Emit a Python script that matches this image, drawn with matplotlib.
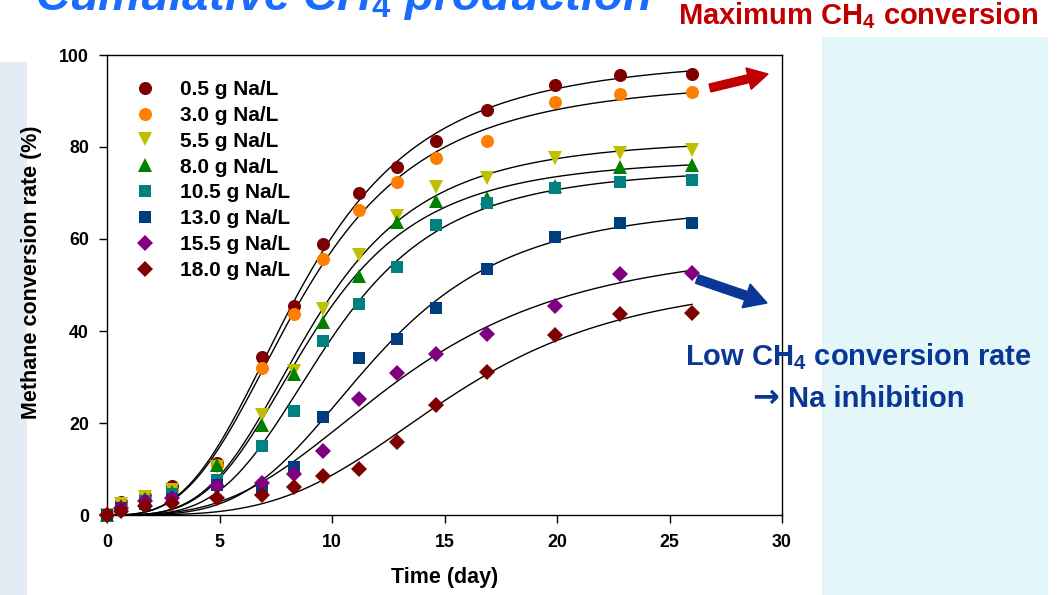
import numpy as np
import matplotlib
matplotlib.use("Agg")
import matplotlib.pyplot as plt
from matplotlib.patches import Rectangle, FancyArrow
from matplotlib.transforms import IdentityTransform

plt.rcParams['font.family'] = ['Liberation Sans', 'DejaVu Sans']
plt.rcParams['font.weight'] = 'bold'
plt.rcParams['mathtext.fontset'] = 'custom'
plt.rcParams['mathtext.rm'] = 'Liberation Sans:bold'
plt.rcParams['mathtext.bf'] = 'Liberation Sans:bold'
plt.rcParams['mathtext.it'] = 'Liberation Sans:italic:bold'

# ---- data -----------------------------------------------------------------
time_days = [0, 0.6, 1.7, 2.9, 4.9, 6.9, 8.3, 9.6, 11.2, 12.9, 14.6, 16.9, 19.9, 22.8, 26.0]

na_labels = ["0.5 g Na/L", "3.0 g Na/L", "5.5 g Na/L", "8.0 g Na/L",
             "10.5 g Na/L", "13.0 g Na/L", "15.5 g Na/L", "18.0 g Na/L"]

conv_05 = [0, 2.9, 4.1, 6.2, 11.4, 34.3, 45.4, 59.0, 70.1, 75.6, 81.3, 88.1, 93.5, 95.7, 95.9]
conv_30 = [0, 2.5, 3.8, 5.5, 10.8, 32.0, 43.8, 55.7, 66.2, 72.4, 77.5, 81.3, 89.8, 91.6, 91.9]
conv_55 = [0, 2.5, 4.0, 5.5, 10.5, 21.8, 31.4, 44.7, 56.6, 65.0, 71.3, 73.2, 77.5, 78.6, 79.3]
conv_80 = [0, 2.0, 3.5, 5.0, 10.9, 19.5, 30.6, 42.0, 52.0, 63.8, 68.2, 69.0, 71.5, 75.7, 76.0]
conv_105 = [0, 1.5, 3.0, 4.5, 7.6, 14.9, 22.7, 37.9, 45.8, 54.0, 63.0, 67.8, 71.0, 72.4, 72.8]
conv_130 = [0, 1.5, 2.5, 3.5, 6.5, 5.9, 10.5, 21.3, 34.1, 38.3, 44.9, 53.5, 60.4, 63.5, 63.5]
conv_155 = [0, 1.5, 3.0, 3.7, 6.2, 6.9, 8.9, 14.0, 25.3, 30.9, 35.1, 39.4, 45.4, 52.4, 52.6]
conv_180 = [0, 0.9, 2.0, 2.7, 3.6, 4.4, 6.0, 8.5, 10.0, 15.8, 24.0, 31.1, 39.2, 43.6, 43.9]

series = [conv_05, conv_30, conv_55, conv_80, conv_105, conv_130, conv_155, conv_180]

# ---- styles ---------------------------------------------------------------
colors = ["#7f0000", "#ff8000", "#bfbf00", "#008000",
          "#008080", "#003f7f", "#800080", "#7f0000"]
markers = ["o", "o", "v", "^", "s", "s", "D", "D"]
msizes = [9.4, 9.4, 9.6, 9.6, 8.8, 8.8, 8.3, 8.3]

W, H = 1059, 595


def fx(px):
    return px / W


def fy(py):
    return 1 - py / H


def hill_fit(t, y):
    """Least-squares fit of y = a t^b / (c^b + t^b)."""
    t = np.asarray(t, float)
    y = np.asarray(y, float)
    b = np.linspace(1.0, 6.0, 251)[:, None, None]
    c = np.linspace(2.0, 60.0, 581)[None, :, None]
    tt = t[None, None, :]
    f = tt ** b / (c ** b + tt ** b)
    a = (f * y).sum(-1) / (f * f).sum(-1)
    sse = ((a[..., None] * f - y) ** 2).sum(-1)
    i, j = np.unravel_index(np.argmin(sse), sse.shape)
    return a[i, j], b[i, 0, 0], c[0, j, 0]


fig = plt.figure(figsize=(W / 100, H / 100), dpi=100)
fig.patch.set_facecolor("white")

# slide background panels
fig.add_artist(Rectangle((fx(0), fy(595)), fx(27), fy(62) - fy(595),
                         transform=fig.transFigure, facecolor="#e3ebf5",
                         edgecolor="none", zorder=0))
fig.add_artist(Rectangle((fx(822), fy(595)), fx(1048) - fx(822), fy(37) - fy(595),
                         transform=fig.transFigure, facecolor="#e3f7f9",
                         edgecolor="none", zorder=0))

ax = fig.add_axes([fx(107), fy(515), fx(782) - fx(107), fy(55) - fy(515)])

t = np.asarray(time_days)
tfine = np.linspace(0, t.max(), 300)
for vals in series:
    a, b, c = hill_fit(t, vals)
    ax.plot(tfine, a * tfine ** b / (c ** b + tfine ** b), color="black", lw=1.0, zorder=2)

handles = []
for vals, col, mk, ms, lab in zip(series, colors, markers, msizes, na_labels):
    h, = ax.plot(t, vals, linestyle="none", marker=mk, ms=ms, color=col,
                 mec=col, mew=0, clip_on=False, zorder=3, label=lab)
    handles.append(h)

ax.set_xlim(0, 30)
ax.set_ylim(0, 100)
ax.set_xticks(range(0, 31, 5))
ax.set_yticks(range(0, 101, 20))
ax.tick_params(direction="out", length=6, width=1.0, labelsize=12.8, colors="black")
ax.tick_params(axis="y", pad=7)
ax.tick_params(axis="x", pad=8)
for sp in ax.spines.values():
    sp.set_linewidth(1.0)
    sp.set_color("black")

leg = ax.legend(handles=handles, loc="upper left",
                bbox_to_anchor=(fx(135.3), fy(80)), bbox_transform=fig.transFigure,
                frameon=False, fontsize=15, numpoints=1, handlelength=0.95,
                handletextpad=1.2, labelspacing=0.33, borderpad=0, borderaxespad=0)

fig.text(fx(32), fy(272), "Methane conversion rate (%)", rotation=90,
         ha="center", va="center", fontsize=15.5, fontweight="bold")
fig.text(fx(445), fy(578), "Time (day)", ha="center", va="center",
         fontsize=15.5, fontweight="bold")

# slide annotations
fig.text(fx(35), fy(10), r"Cumulative CH$_\mathit{4}$ production", fontsize=34,
         style="italic", fontweight="bold", color="#1a6cff", va="baseline", ha="left")
fig.text(fx(678), fy(24), r"Maximum CH$_\mathbf{4}$ conversion", fontsize=21,
         fontweight="bold", color="#c00000", va="baseline", ha="left")
fig.text(fx(858), fy(365), r"Low CH$_\mathbf{4}$ conversion rate", fontsize=21,
         fontweight="bold", color="#0a3796", va="baseline", ha="center", zorder=5)
fig.text(fx(752), fy(407), "\u2192", fontsize=23, family=["DejaVu Sans"],
         fontweight="bold", color="#0a3796", va="baseline", ha="left", zorder=5)
fig.text(fx(788), fy(407), "Na inhibition", fontsize=21,
         fontweight="bold", color="#0a3796", va="baseline", ha="left", zorder=5)

fig.add_artist(FancyArrow(710, H - 88, 58, 14, width=8, head_width=22, head_length=20,
                          length_includes_head=True, color="#c00000",
                          transform=IdentityTransform(), zorder=5))
fig.add_artist(FancyArrow(697, H - 279, 70, -24, width=9, head_width=25, head_length=22,
                          length_includes_head=True, color="#0a3796",
                          transform=IdentityTransform(), zorder=5))

fig.savefig("out.png", dpi=100, facecolor=fig.get_facecolor())
